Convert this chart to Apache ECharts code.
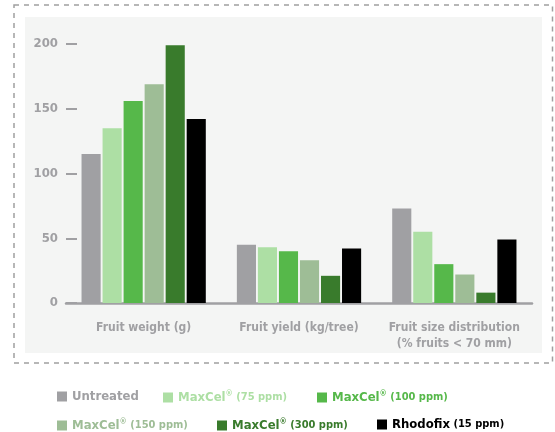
<!DOCTYPE html>
<html>
<head>
<meta charset="utf-8">
<script src="https://cdn.jsdelivr.net/npm/echarts@6/dist/echarts.min.js"></script>
<style>html,body{margin:0;padding:0;background:#fff;}#c{width:555px;height:432px;}</style>
</head>
<body>
<div id="c"></div>
<script>
var categories = ['Fruit weight (g)', 'Fruit yield (kg/tree)', 'Fruit size distribution\n(% fruits < 70 mm)'];
var seriesNames = ['Untreated', 'MaxCel® (75 ppm)', 'MaxCel® (100 ppm)', 'MaxCel® (150 ppm)', 'MaxCel® (300 ppm)', 'Rhodofix (15 ppm)'];
var untreated = [115, 45, 73];
var maxcel75 = [135, 43, 55];
var maxcel100 = [156, 40, 30];
var maxcel150 = [169, 33, 22];
var maxcel300 = [199, 21, 8];
var rhodofix = [142, 42, 49];
var yTicks = [0, 50, 100, 150, 200];

var values = [untreated, maxcel75, maxcel100, maxcel150, maxcel300, rhodofix];
var colors = ['#a0a0a3', '#addfa4', '#56b84a', '#9ebd96', '#397b2c', '#000000'];
var FONT = "'Liberation Sans Narrow', 'DejaVu Sans Condensed', 'Liberation Sans', sans-serif";

var legendPos = [[57, 390], [163, 390], [317, 390], [57, 418], [217, 418], [377, 418]];
var legends = seriesNames.map(function (n, i) {
  var c = colors[i];
  return {
    data: [n],
    left: legendPos[i][0],
    top: legendPos[i][1],
    padding: 0,
    icon: 'rect',
    itemWidth: 10,
    itemHeight: 10,
    itemGap: 0,
    selectedMode: false,
    formatter: function (name) {
      var m = name.match(/^(\S+?)(®?) (\(.*\))$/);
      if (!m) return '{a|' + name + '}';
      return '{a|' + m[1] + '}' + (m[2] ? '{s|®}' : '') + '{b| ' + m[3] + '}';
    },
    textStyle: {
      fontFamily: FONT,
      rich: {
        a: { fontSize: 13, fontWeight: 'bold', color: c, fontFamily: FONT },
        s: { fontSize: 8, fontWeight: 'bold', color: c, fontFamily: FONT, padding: [0, 0, 7, 0] },
        b: { fontSize: 11, fontWeight: 'bold', color: c, fontFamily: FONT }
      }
    }
  };
});

var series = seriesNames.map(function (n, i) {
  return {
    name: n,
    type: 'bar',
    data: values[i],
    barGap: '10%',
    barCategoryGap: '20%',
    itemStyle: { color: colors[i] },
    emphasis: { disabled: true }
  };
});

var chart = echarts.init(document.getElementById('c'));
chart.setOption({
  animation: false,
  backgroundColor: '#ffffff',
  graphic: [
    { type: 'rect', z: -10, shape: { x: 14, y: 5, width: 538.5, height: 358 },
      style: { fill: 'none', stroke: '#a0a0a0', lineWidth: 1.5, lineDash: [5, 5] } },
    { type: 'rect', z: -9, shape: { x: 25, y: 17, width: 517, height: 336 },
      style: { fill: '#f4f5f4' } }
  ],
  legend: legends,
  grid: { left: 66, right: 23, top: 44, bottom: 129, containLabel: false },
  xAxis: {
    type: 'category',
    data: categories,
    axisLine: { lineStyle: { color: '#a0a0a3', width: 2.5 } },
    axisTick: { show: false },
    axisLabel: { interval: 0, color: '#a0a0a3', fontFamily: FONT, fontWeight: 'bold', fontSize: 12, margin: 17, lineHeight: 16 }
  },
  yAxis: {
    type: 'value',
    min: yTicks[0],
    max: yTicks[yTicks.length - 1],
    interval: yTicks[1] - yTicks[0],
    splitLine: { show: false },
    axisLine: { show: false },
    axisTick: { show: true, inside: true, length: 11, lineStyle: { color: '#a0a0a3', width: 2 } },
    axisLabel: { color: '#a0a0a3', fontFamily: FONT, fontWeight: 'bold', fontSize: 13, margin: 8 }
  },
  series: series
});
</script>
</body>
</html>
